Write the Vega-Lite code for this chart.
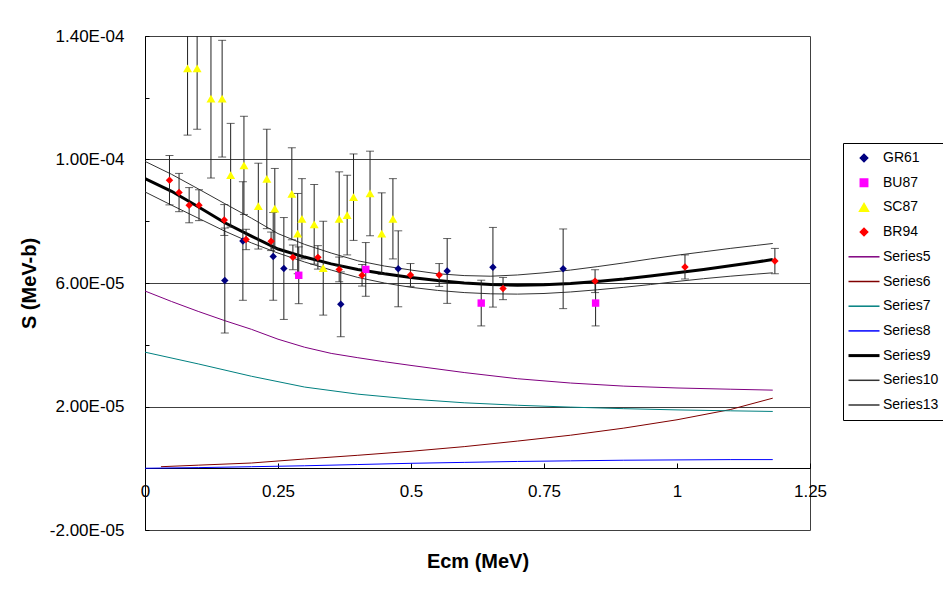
{
  "$schema": "https://vega.github.io/schema/vega-lite/v6.json",
  "width": 665,
  "height": 494,
  "autosize": {"type": "none"},
  "padding": {"left": 145, "top": 36, "right": 133, "bottom": 60},
  "background": "#ffffff",
  "config": {
    "font": "Liberation Sans",
    "view": {"stroke": "#404040", "strokeWidth": 1},
    "axis": {"labelColor": "#000000", "titleColor": "#000000", "domainColor": "#000000", "tickColor": "#000000", "labelFont": "Liberation Sans", "titleFont": "Liberation Sans"}
  },
  "datasets": {
    "lines": [
      {"series": "Series5", "E": 0, "S": 5.74e-5}, {"series": "Series5", "E": 0.05, "S": 5.40e-5}, {"series": "Series5", "E": 0.1, "S": 5.08e-5}, {"series": "Series5", "E": 0.15, "S": 4.78e-5}, {"series": "Series5", "E": 0.2, "S": 4.50e-5}, {"series": "Series5", "E": 0.25, "S": 4.18e-5}, {"series": "Series5", "E": 0.3, "S": 3.92e-5}, {"series": "Series5", "E": 0.35, "S": 3.72e-5}, {"series": "Series5", "E": 0.4, "S": 3.58e-5}, {"series": "Series5", "E": 0.45, "S": 3.45e-5}, {"series": "Series5", "E": 0.5, "S": 3.33e-5}, {"series": "Series5", "E": 0.6, "S": 3.10e-5}, {"series": "Series5", "E": 0.7, "S": 2.90e-5}, {"series": "Series5", "E": 0.8, "S": 2.76e-5}, {"series": "Series5", "E": 0.9, "S": 2.66e-5}, {"series": "Series5", "E": 1.0, "S": 2.60e-5}, {"series": "Series5", "E": 1.1, "S": 2.56e-5}, {"series": "Series5", "E": 1.18, "S": 2.53e-5},
      {"series": "Series6", "E": 0.03, "S": 0.05e-5}, {"series": "Series6", "E": 0.1, "S": 0.10e-5}, {"series": "Series6", "E": 0.2, "S": 0.17e-5}, {"series": "Series6", "E": 0.3, "S": 0.30e-5}, {"series": "Series6", "E": 0.4, "S": 0.42e-5}, {"series": "Series6", "E": 0.5, "S": 0.55e-5}, {"series": "Series6", "E": 0.6, "S": 0.70e-5}, {"series": "Series6", "E": 0.7, "S": 0.88e-5}, {"series": "Series6", "E": 0.8, "S": 1.07e-5}, {"series": "Series6", "E": 0.9, "S": 1.30e-5}, {"series": "Series6", "E": 1.0, "S": 1.57e-5}, {"series": "Series6", "E": 1.1, "S": 1.90e-5}, {"series": "Series6", "E": 1.18, "S": 2.27e-5},
      {"series": "Series7", "E": 0, "S": 3.76e-5}, {"series": "Series7", "E": 0.1, "S": 3.38e-5}, {"series": "Series7", "E": 0.2, "S": 2.98e-5}, {"series": "Series7", "E": 0.3, "S": 2.63e-5}, {"series": "Series7", "E": 0.4, "S": 2.40e-5}, {"series": "Series7", "E": 0.5, "S": 2.24e-5}, {"series": "Series7", "E": 0.6, "S": 2.12e-5}, {"series": "Series7", "E": 0.7, "S": 2.04e-5}, {"series": "Series7", "E": 0.8, "S": 1.98e-5}, {"series": "Series7", "E": 0.9, "S": 1.93e-5}, {"series": "Series7", "E": 1.0, "S": 1.89e-5}, {"series": "Series7", "E": 1.1, "S": 1.86e-5}, {"series": "Series7", "E": 1.18, "S": 1.84e-5},
      {"series": "Series8", "E": 0, "S": 0}, {"series": "Series8", "E": 0.1, "S": 0.02e-5}, {"series": "Series8", "E": 0.2, "S": 0.05e-5}, {"series": "Series8", "E": 0.3, "S": 0.08e-5}, {"series": "Series8", "E": 0.4, "S": 0.12e-5}, {"series": "Series8", "E": 0.5, "S": 0.16e-5}, {"series": "Series8", "E": 0.6, "S": 0.19e-5}, {"series": "Series8", "E": 0.7, "S": 0.22e-5}, {"series": "Series8", "E": 0.8, "S": 0.24e-5}, {"series": "Series8", "E": 0.9, "S": 0.26e-5}, {"series": "Series8", "E": 1.0, "S": 0.27e-5}, {"series": "Series8", "E": 1.1, "S": 0.28e-5}, {"series": "Series8", "E": 1.18, "S": 0.28e-5},
      {"series": "Series10", "E": 0, "S": 9.94e-5}, {"series": "Series10", "E": 0.05, "S": 9.52e-5}, {"series": "Series10", "E": 0.1, "S": 9.05e-5}, {"series": "Series10", "E": 0.15, "S": 8.57e-5}, {"series": "Series10", "E": 0.2, "S": 8.10e-5}, {"series": "Series10", "E": 0.25, "S": 7.60e-5}, {"series": "Series10", "E": 0.3, "S": 7.25e-5}, {"series": "Series10", "E": 0.35, "S": 6.97e-5}, {"series": "Series10", "E": 0.4, "S": 6.72e-5}, {"series": "Series10", "E": 0.45, "S": 6.55e-5}, {"series": "Series10", "E": 0.5, "S": 6.42e-5}, {"series": "Series10", "E": 0.55, "S": 6.30e-5}, {"series": "Series10", "E": 0.6, "S": 6.24e-5}, {"series": "Series10", "E": 0.65, "S": 6.22e-5}, {"series": "Series10", "E": 0.7, "S": 6.26e-5}, {"series": "Series10", "E": 0.75, "S": 6.33e-5}, {"series": "Series10", "E": 0.8, "S": 6.42e-5}, {"series": "Series10", "E": 0.85, "S": 6.53e-5}, {"series": "Series10", "E": 0.9, "S": 6.65e-5}, {"series": "Series10", "E": 0.95, "S": 6.78e-5}, {"series": "Series10", "E": 1.0, "S": 6.90e-5}, {"series": "Series10", "E": 1.05, "S": 7.01e-5}, {"series": "Series10", "E": 1.1, "S": 7.12e-5}, {"series": "Series10", "E": 1.15, "S": 7.22e-5}, {"series": "Series10", "E": 1.18, "S": 7.28e-5},
      {"series": "Series13", "E": 0, "S": 8.95e-5}, {"series": "Series13", "E": 0.05, "S": 8.52e-5}, {"series": "Series13", "E": 0.1, "S": 8.10e-5}, {"series": "Series13", "E": 0.15, "S": 7.68e-5}, {"series": "Series13", "E": 0.2, "S": 7.30e-5}, {"series": "Series13", "E": 0.25, "S": 6.97e-5}, {"series": "Series13", "E": 0.3, "S": 6.68e-5}, {"series": "Series13", "E": 0.35, "S": 6.42e-5}, {"series": "Series13", "E": 0.4, "S": 6.18e-5}, {"series": "Series13", "E": 0.45, "S": 6.00e-5}, {"series": "Series13", "E": 0.5, "S": 5.86e-5}, {"series": "Series13", "E": 0.55, "S": 5.76e-5}, {"series": "Series13", "E": 0.6, "S": 5.69e-5}, {"series": "Series13", "E": 0.65, "S": 5.65e-5}, {"series": "Series13", "E": 0.7, "S": 5.64e-5}, {"series": "Series13", "E": 0.75, "S": 5.66e-5}, {"series": "Series13", "E": 0.8, "S": 5.71e-5}, {"series": "Series13", "E": 0.85, "S": 5.78e-5}, {"series": "Series13", "E": 0.9, "S": 5.86e-5}, {"series": "Series13", "E": 0.95, "S": 5.95e-5}, {"series": "Series13", "E": 1.0, "S": 6.05e-5}, {"series": "Series13", "E": 1.05, "S": 6.14e-5}, {"series": "Series13", "E": 1.1, "S": 6.22e-5}, {"series": "Series13", "E": 1.15, "S": 6.29e-5}, {"series": "Series13", "E": 1.18, "S": 6.33e-5},
      {"series": "Series9", "E": 0, "S": 9.38e-5}, {"series": "Series9", "E": 0.05, "S": 8.97e-5}, {"series": "Series9", "E": 0.1, "S": 8.47e-5}, {"series": "Series9", "E": 0.15, "S": 7.95e-5}, {"series": "Series9", "E": 0.2, "S": 7.52e-5}, {"series": "Series9", "E": 0.25, "S": 7.10e-5}, {"series": "Series9", "E": 0.3, "S": 6.84e-5}, {"series": "Series9", "E": 0.35, "S": 6.62e-5}, {"series": "Series9", "E": 0.4, "S": 6.44e-5}, {"series": "Series9", "E": 0.45, "S": 6.30e-5}, {"series": "Series9", "E": 0.5, "S": 6.18e-5}, {"series": "Series9", "E": 0.55, "S": 6.08e-5}, {"series": "Series9", "E": 0.6, "S": 6.00e-5}, {"series": "Series9", "E": 0.65, "S": 5.95e-5}, {"series": "Series9", "E": 0.7, "S": 5.93e-5}, {"series": "Series9", "E": 0.75, "S": 5.94e-5}, {"series": "Series9", "E": 0.8, "S": 5.98e-5}, {"series": "Series9", "E": 0.85, "S": 6.05e-5}, {"series": "Series9", "E": 0.9, "S": 6.13e-5}, {"series": "Series9", "E": 0.95, "S": 6.23e-5}, {"series": "Series9", "E": 1.0, "S": 6.33e-5}, {"series": "Series9", "E": 1.05, "S": 6.44e-5}, {"series": "Series9", "E": 1.1, "S": 6.56e-5}, {"series": "Series9", "E": 1.15, "S": 6.68e-5}, {"series": "Series9", "E": 1.18, "S": 6.76e-5}
    ],
    "points": [
      {"series": "GR61", "E": 0.150, "S": 6.08e-5, "lo": 4.38e-5, "hi": 7.78e-5},
      {"series": "GR61", "E": 0.184, "S": 7.36e-5, "lo": 5.44e-5, "hi": 9.28e-5},
      {"series": "GR61", "E": 0.241, "S": 6.86e-5, "lo": 5.44e-5, "hi": 8.28e-5},
      {"series": "GR61", "E": 0.261, "S": 6.47e-5, "lo": 4.82e-5, "hi": 8.12e-5},
      {"series": "GR61", "E": 0.368, "S": 5.31e-5, "lo": 4.26e-5, "hi": 6.36e-5},
      {"series": "GR61", "E": 0.476, "S": 6.46e-5, "lo": 5.23e-5, "hi": 7.69e-5},
      {"series": "GR61", "E": 0.568, "S": 6.39e-5, "lo": 5.34e-5, "hi": 7.44e-5},
      {"series": "GR61", "E": 0.654, "S": 6.51e-5, "lo": 5.22e-5, "hi": 7.80e-5},
      {"series": "GR61", "E": 0.786, "S": 6.46e-5, "lo": 5.17e-5, "hi": 7.75e-5},
      {"series": "BU87", "E": 0.289, "S": 6.25e-5, "lo": 5.33e-5, "hi": 7.17e-5},
      {"series": "BU87", "E": 0.415, "S": 6.44e-5, "lo": 5.57e-5, "hi": 7.31e-5},
      {"series": "BU87", "E": 0.632, "S": 5.35e-5, "lo": 4.61e-5, "hi": 6.09e-5},
      {"series": "BU87", "E": 0.847, "S": 5.35e-5, "lo": 4.61e-5, "hi": 6.09e-5},
      {"series": "SC87", "E": 0.080, "S": 12.95e-5, "lo": 10.79e-5, "hi": 15.11e-5},
      {"series": "SC87", "E": 0.098, "S": 12.95e-5, "lo": 10.98e-5, "hi": 14.92e-5},
      {"series": "SC87", "E": 0.124, "S": 11.97e-5, "lo": 9.40e-5, "hi": 14.54e-5},
      {"series": "SC87", "E": 0.145, "S": 11.97e-5, "lo": 10.08e-5, "hi": 13.86e-5},
      {"series": "SC87", "E": 0.161, "S": 9.49e-5, "lo": 7.81e-5, "hi": 11.17e-5},
      {"series": "SC87", "E": 0.186, "S": 9.81e-5, "lo": 8.22e-5, "hi": 11.40e-5},
      {"series": "SC87", "E": 0.213, "S": 8.49e-5, "lo": 7.10e-5, "hi": 9.88e-5},
      {"series": "SC87", "E": 0.229, "S": 9.37e-5, "lo": 7.76e-5, "hi": 10.98e-5},
      {"series": "SC87", "E": 0.244, "S": 8.41e-5, "lo": 7.11e-5, "hi": 9.71e-5},
      {"series": "SC87", "E": 0.276, "S": 8.89e-5, "lo": 7.40e-5, "hi": 10.38e-5},
      {"series": "SC87", "E": 0.287, "S": 7.60e-5, "lo": 6.30e-5, "hi": 8.90e-5},
      {"series": "SC87", "E": 0.295, "S": 8.08e-5, "lo": 6.78e-5, "hi": 9.38e-5},
      {"series": "SC87", "E": 0.318, "S": 7.90e-5, "lo": 6.61e-5, "hi": 9.19e-5},
      {"series": "SC87", "E": 0.335, "S": 6.48e-5, "lo": 4.96e-5, "hi": 8.00e-5},
      {"series": "SC87", "E": 0.365, "S": 8.08e-5, "lo": 6.56e-5, "hi": 9.60e-5},
      {"series": "SC87", "E": 0.380, "S": 8.20e-5, "lo": 6.91e-5, "hi": 9.49e-5},
      {"series": "SC87", "E": 0.392, "S": 8.78e-5, "lo": 7.38e-5, "hi": 10.18e-5},
      {"series": "SC87", "E": 0.423, "S": 8.90e-5, "lo": 7.53e-5, "hi": 10.27e-5},
      {"series": "SC87", "E": 0.445, "S": 7.60e-5, "lo": 6.28e-5, "hi": 8.92e-5},
      {"series": "SC87", "E": 0.466, "S": 8.08e-5, "lo": 6.78e-5, "hi": 9.38e-5},
      {"series": "BR94", "E": 0.046, "S": 9.33e-5, "lo": 8.53e-5, "hi": 10.13e-5},
      {"series": "BR94", "E": 0.064, "S": 8.93e-5, "lo": 8.31e-5, "hi": 9.55e-5},
      {"series": "BR94", "E": 0.083, "S": 8.52e-5, "lo": 7.95e-5, "hi": 9.09e-5},
      {"series": "BR94", "E": 0.1015, "S": 8.52e-5, "lo": 8.02e-5, "hi": 9.02e-5},
      {"series": "BR94", "E": 0.149, "S": 8.04e-5, "lo": 7.54e-5, "hi": 8.54e-5},
      {"series": "BR94", "E": 0.190, "S": 7.41e-5, "lo": 7.08e-5, "hi": 7.74e-5},
      {"series": "BR94", "E": 0.237, "S": 7.35e-5, "lo": 7.05e-5, "hi": 7.65e-5},
      {"series": "BR94", "E": 0.278, "S": 6.83e-5, "lo": 6.43e-5, "hi": 7.23e-5},
      {"series": "BR94", "E": 0.325, "S": 6.83e-5, "lo": 6.45e-5, "hi": 7.21e-5},
      {"series": "BR94", "E": 0.365, "S": 6.44e-5, "lo": 6.04e-5, "hi": 6.84e-5},
      {"series": "BR94", "E": 0.408, "S": 6.25e-5, "lo": 5.90e-5, "hi": 6.60e-5},
      {"series": "BR94", "E": 0.499, "S": 6.26e-5, "lo": 5.89e-5, "hi": 6.63e-5},
      {"series": "BR94", "E": 0.553, "S": 6.26e-5, "lo": 5.89e-5, "hi": 6.63e-5},
      {"series": "BR94", "E": 0.673, "S": 5.82e-5, "lo": 5.46e-5, "hi": 6.18e-5},
      {"series": "BR94", "E": 0.846, "S": 6.06e-5, "lo": 5.69e-5, "hi": 6.43e-5},
      {"series": "BR94", "E": 1.015, "S": 6.52e-5, "lo": 6.13e-5, "hi": 6.91e-5},
      {"series": "BR94", "E": 1.184, "S": 6.71e-5, "lo": 6.30e-5, "hi": 7.12e-5}
    ]
  },
  "layer": [
    {
      "data": {"name": "lines"},
      "mark": {"type": "line", "clip": true},
      "encoding": {
        "x": {
          "field": "E", "type": "quantitative",
          "scale": {"domain": [0, 1.25], "nice": false, "zero": false},
          "axis": {
            "title": "Ecm (MeV)", "titleFontSize": 20, "titleFontWeight": "bold", "titlePadding": 52,
            "values": [0, 0.25, 0.5, 0.75, 1, 1.25], "labelExpr": "'' + datum.value",
            "offset": -62, "grid": false, "tickSize": -5, "labelPadding": 20,
            "labelFontSize": 17, "labelFontWeight": "normal", "labelFlush": false
          }
        },
        "y": {
          "field": "S", "type": "quantitative",
          "scale": {"domain": [-2e-5, 1.4e-4], "nice": false, "zero": false},
          "axis": {
            "title": "S (MeV-b)", "titleFontSize": 20, "titleFontWeight": "bold", "titlePadding": 10,
            "values": [-2e-5, 0, 2e-5, 4e-5, 6e-5, 8e-5, 1e-4, 1.2e-4, 1.4e-4],
            "labelExpr": "abs((datum.value + 2e-5) / 4e-5 - round((datum.value + 2e-5) / 4e-5)) < 0.01 ? replace(replace(replace(format(datum.value, '.2e'), '\u2212', '-'), 'e-', 'E-0'), 'e+', 'E+0') : ''",
            "grid": true, "gridColor": "#404040", "gridWidth": 1,
            "gridOpacity": {"condition": {"test": "abs((datum.value + 2e-5) / 4e-5 - round((datum.value + 2e-5) / 4e-5)) < 0.01 && datum.value > 1e-6 && datum.value < 1.3e-4", "value": 1}, "value": 0},
            "tickSize": -4, "labelPadding": 25, "labelFontSize": 17, "labelFlush": false
          }
        },
        "color": {
          "field": "series", "type": "nominal",
          "scale": {
            "domain": ["GR61", "BU87", "SC87", "BR94", "Series5", "Series6", "Series7", "Series8", "Series9", "Series10", "Series13"],
            "range": ["#000080", "#FF00FF", "#FFFF00", "#FF0000", "#800080", "#800000", "#008080", "#0000FF", "#000000", "#333333", "#333333"]
          },
          "legend": {
            "title": null, "orient": "none", "legendX": 698, "legendY": 107,
            "strokeColor": "#000000", "fillColor": "#ffffff", "padding": 8,
            "symbolSize": 900, "symbolStrokeWidth": 1.5, "labelFontSize": 14, "labelFont": "Liberation Sans", "labelColor": "#000000",
            "rowPadding": 10.7, "labelOffset": 12, "symbolOffset": 6,
            "encode": {
              "symbols": {
                "update": {
                  "fill": {"signal": "indexof(['GR61','BU87','SC87','BR94'], datum.value) >= 0 ? scale('color', datum.value) : 'transparent'"},
                  "stroke": {"signal": "indexof(['GR61','BU87','SC87','BR94'], datum.value) >= 0 ? 'transparent' : scale('color', datum.value)"},
                  "strokeWidth": {"signal": "datum.value === 'Series9' ? 3 : 1.5"},
                  "size": {"signal": "indexof(['GR61','BU87','SC87','BR94'], datum.value) >= 0 ? (datum.value === 'SC87' ? 80 : 55) : 961"},
                  "opacity": {"value": 1}
                }
              }
            }
          }
        },
        "strokeWidth": {"condition": {"test": "datum.series === 'Series9'", "value": 3}, "value": 1}
      }
    },
    {
      "data": {"name": "points"},
      "mark": {"type": "rule", "clip": true, "color": "#222222", "strokeWidth": 1},
      "encoding": {
        "x": {"field": "E", "type": "quantitative"},
        "y": {"field": "lo", "type": "quantitative"},
        "y2": {"field": "hi"}
      }
    },
    {
      "data": {"name": "points"},
      "mark": {"type": "tick", "clip": true, "color": "#222222", "orient": "horizontal", "size": 8, "thickness": 1},
      "encoding": {
        "x": {"field": "E", "type": "quantitative"},
        "y": {"field": "lo", "type": "quantitative"}
      }
    },
    {
      "data": {"name": "points"},
      "mark": {"type": "tick", "clip": true, "color": "#222222", "orient": "horizontal", "size": 8, "thickness": 1},
      "encoding": {
        "x": {"field": "E", "type": "quantitative"},
        "y": {"field": "hi", "type": "quantitative"}
      }
    },
    {
      "data": {"name": "points"},
      "mark": {"type": "point", "filled": true, "opacity": 1, "clip": true},
      "encoding": {
        "x": {"field": "E", "type": "quantitative"},
        "y": {"field": "S", "type": "quantitative"},
        "color": {"field": "series", "type": "nominal"},
        "shape": {
          "field": "series", "type": "nominal",
          "scale": {
            "domain": ["GR61", "BU87", "SC87", "BR94", "Series5", "Series6", "Series7", "Series8", "Series9", "Series10", "Series13"],
            "range": ["diamond", "square", "triangle-up", "diamond", "stroke", "stroke", "stroke", "stroke", "stroke", "stroke", "stroke"]
          }
        },
        "size": {"condition": {"test": "datum.series === 'SC87'", "value": 80}, "value": 55}
      }
    }
  ]
}
